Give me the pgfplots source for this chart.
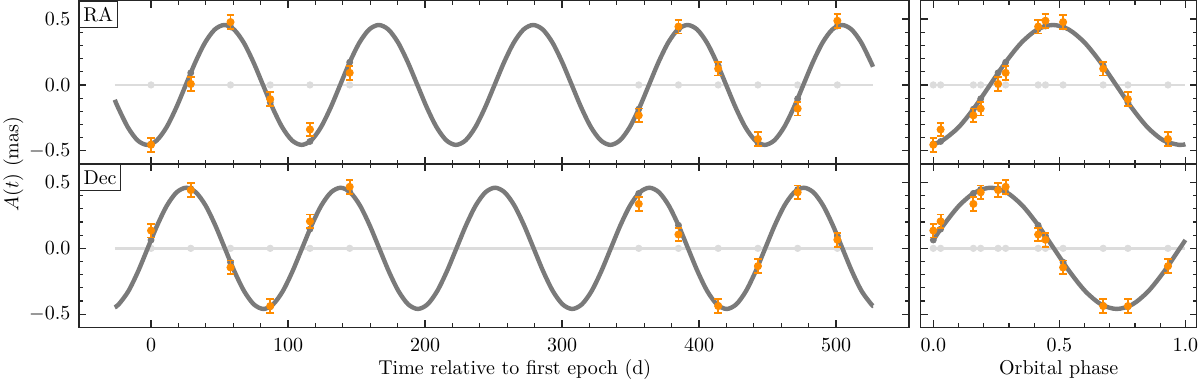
\documentclass[border=0pt]{standalone}
\usepackage{pgfplots}
\pgfplotsset{compat=1.18}
\usepackage{pgfplotstable}
\definecolor{dorange}{HTML}{FF8C00}
\definecolor{mgray}{HTML}{7A7A7A}
\definecolor{lgray}{HTML}{DCDCDC}

\pgfplotstableread{
t ph ra dec mra mdec err z
0 0.000 -0.454 0.135 -0.449 0.063 0.052 0
29 0.257 0.008 0.442 0.092 0.452 0.052 0
58 0.515 0.477 -0.145 0.441 -0.105 0.052 0
87 0.772 -0.108 -0.438 -0.132 -0.443 0.052 0
116 0.029 -0.338 0.205 -0.429 0.146 0.052 0
145 0.287 0.092 0.467 0.172 0.429 0.052 0
356 0.159 -0.231 0.337 -0.184 0.417 0.052 0
385 0.416 0.443 0.105 0.424 0.175 0.052 0
414 0.674 0.123 -0.438 0.145 -0.433 0.052 0
443 0.931 -0.410 -0.135 -0.438 -0.135 0.052 0
472 0.188 -0.180 0.425 -0.105 0.446 0.052 0
501 0.445 0.487 0.065 0.447 0.094 0.052 0
}\obs

\tikzset{lbl/.style={draw=black!85, line width=0.5pt, fill=white, anchor=north west, inner xsep=2pt, inner ysep=3.2pt, text height=6.83pt, text depth=0pt}}

\pgfplotsset{
 panel/.style={scale only axis, height=81.7pt, ymin=-0.6, ymax=0.64,
  ytick={-0.5,0,0.5}, minor y tick num=4, tick align=inside, tick pos=both,
  major tick length=3.5pt, minor tick length=2pt,
  every tick/.append style={black!85, line width=0.6pt},
  axis line style={black!85, line width=0.6pt},
  yticklabel style={/pgf/number format/fixed, /pgf/number format/fixed zerofill, /pgf/number format/precision=1, xshift=-0.8pt},
  xticklabel style={yshift=-2.1pt},
  clip mode=individual},
 leftpanel/.style={width=415pt, xmin=-52.6, xmax=553.3, xtick={0,100,...,500}, minor x tick num=4},
 rightpanel/.style={width=138pt, xmin=-0.05, xmax=1.045, xtick={0,0.5,1}, minor x tick num=4, yticklabels={},
  xticklabel style={/pgf/number format/fixed, /pgf/number format/fixed zerofill, /pgf/number format/precision=1}},
 zline/.style={lgray, line width=1.2pt},
 zdots/.style={only marks, mark=*, mark size=1.6pt, mark options={lgray, draw=lgray, fill=lgray}},
 model/.style={mgray, line width=2.2pt, smooth, no markers},
 mdots/.style={only marks, mark=*, mark size=1.5pt, mark options={mgray, draw=mgray, fill=mgray}},
 obs/.style={only marks, mark=*, mark size=1.8pt, mark options={dorange, draw=dorange, fill=dorange},
  error bars/.cd, y dir=both, y explicit,
  error bar style={dorange, line width=0.9pt},
  error mark options={rotate=90, dorange, line width=0.9pt, mark size=1.9pt}}
}

\begin{document}
\begin{tikzpicture}
\useasboundingbox (-39.5pt,-192.7pt) rectangle (560.5pt,0.3pt);

% RA vs time
\begin{axis}[panel, leftpanel, at={(0pt,0pt)}, anchor=north west, xticklabels={},
  ylabel={$A(t)$ (mas)}, ylabel style={at={(axis description cs:-0.0792,0)}, anchor=center}]
\addplot[zline] coordinates {(-26.5,0)(527,0)};
\addplot[zdots] table[x=t, y=z] {\obs};
\addplot[model] coordinates {
(-26.5,-0.1128)(-23.95,-0.1741)(-16.91,-0.3217)(-9.86,-0.4204)(-2.82,-0.455)(4.22,-0.4204)(11.27,-0.3217)(18.31,-0.1741)(25.35,0)(32.40,0.1741)(39.44,0.3217)(46.49,0.4204)
(53.53,0.455)(60.57,0.4204)(67.62,0.3217)(74.66,0.1741)(81.71,0)(88.75,-0.1741)(95.79,-0.3217)(102.84,-0.4204)(109.88,-0.455)(116.92,-0.4204)(123.97,-0.3217)(131.01,-0.1741)(138.06,0)(145.10,0.1741)(152.14,0.3217)(159.19,0.4204)
(166.23,0.455)(173.27,0.4204)(180.32,0.3217)(187.36,0.1741)(194.41,0)(201.45,-0.1741)(208.49,-0.3217)(215.54,-0.4204)(222.58,-0.455)(229.62,-0.4204)(236.67,-0.3217)(243.71,-0.1741)(250.76,0)(257.80,0.1741)(264.84,0.3217)(271.89,0.4204)
(278.93,0.455)(285.97,0.4204)(293.02,0.3217)(300.06,0.1741)(307.11,0)(314.15,-0.1741)(321.19,-0.3217)(328.24,-0.4204)(335.28,-0.455)(342.32,-0.4204)(349.37,-0.3217)(356.41,-0.1741)(363.46,0)(370.50,0.1741)(377.54,0.3217)(384.59,0.4204)
(391.63,0.455)(398.67,0.4204)(405.72,0.3217)(412.76,0.1741)(419.81,0)(426.85,-0.1741)(433.89,-0.3217)(440.94,-0.4204)(447.98,-0.455)(455.02,-0.4204)(462.07,-0.3217)(469.11,-0.1741)(476.16,0)(483.20,0.1741)(490.24,0.3217)(497.29,0.4204)
(504.33,0.455)(511.37,0.4204)(518.42,0.3217)(525.46,0.1741)(527,0.1377)};
\addplot[mdots] table[x=t, y=mra] {\obs};
\addplot[obs] table[x=t, y=ra, y error=err] {\obs};
\node[lbl] at (rel axis cs:0,1) {RA};
\end{axis}

% Dec vs time
\begin{axis}[panel, leftpanel, at={(0pt,-81.7pt)}, anchor=north west,
  xlabel={Time relative to first epoch (d)}, xlabel style={at={(axis description cs:0.525,0)}, anchor=base, yshift=-23.55pt}]
\addplot[zline] coordinates {(-26.5,0)(527,0)};
\addplot[zdots] table[x=t, y=z] {\obs};
\addplot[model] coordinates {
(-26.5,-0.4476)(-23.61,-0.425)(-16.56,-0.3253)(-9.52,-0.176)(-2.48,0)(4.57,0.176)(11.61,0.3253)(18.66,0.425)
(25.70,0.46)(32.74,0.425)(39.79,0.3253)(46.83,0.176)(53.88,0)(60.92,-0.176)(67.96,-0.3253)(75.01,-0.425)(82.05,-0.46)(89.09,-0.425)(96.14,-0.3253)(103.18,-0.176)(110.23,0)(117.27,0.176)(124.31,0.3253)(131.36,0.425)
(138.40,0.46)(145.44,0.425)(152.49,0.3253)(159.53,0.176)(166.58,0)(173.62,-0.176)(180.66,-0.3253)(187.71,-0.425)(194.75,-0.46)(201.79,-0.425)(208.84,-0.3253)(215.88,-0.176)(222.93,0)(229.97,0.176)(237.01,0.3253)(244.06,0.425)
(251.10,0.46)(258.14,0.425)(265.19,0.3253)(272.23,0.176)(279.28,0)(286.32,-0.176)(293.36,-0.3253)(300.41,-0.425)(307.45,-0.46)(314.49,-0.425)(321.54,-0.3253)(328.58,-0.176)(335.63,0)(342.67,0.176)(349.71,0.3253)(356.76,0.425)
(363.80,0.46)(370.84,0.425)(377.89,0.3253)(384.93,0.176)(391.98,0)(399.02,-0.176)(406.06,-0.3253)(413.11,-0.425)(420.15,-0.46)(427.19,-0.425)(434.24,-0.3253)(441.28,-0.176)(448.33,0)(455.37,0.176)(462.41,0.3253)(469.46,0.425)
(476.50,0.46)(483.54,0.425)(490.59,0.3253)(497.63,0.176)(504.68,0)(511.72,-0.176)(518.76,-0.3253)(525.81,-0.425)(527,-0.436)};
\addplot[mdots] table[x=t, y=mdec] {\obs};
\addplot[obs] table[x=t, y=dec, y error=err] {\obs};
\node[lbl] at (rel axis cs:0,1) {Dec};
\end{axis}

% RA vs phase
\begin{axis}[panel, rightpanel, at={(420.85pt,0pt)}, anchor=north west, xticklabels={}]
\addplot[zline] coordinates {(0,0)(1,0)};
\addplot[zdots] table[x=ph, y=z] {\obs};
\addplot[model] coordinates {
(0,-0.4494)(0.0375,-0.4204)(0.1,-0.3217)(0.1625,-0.1741)(0.225,0)(0.2875,0.1741)(0.35,0.3217)(0.4125,0.4204)(0.475,0.455)(0.5375,0.4204)(0.6,0.3217)(0.6625,0.1741)(0.725,0)(0.7875,-0.1741)(0.85,-0.3217)(0.9125,-0.4204)(0.975,-0.455)(1,-0.4494)};
\addplot[mdots] table[x=ph, y=mra] {\obs};
\addplot[obs] table[x=ph, y=ra, y error=err] {\obs};
\end{axis}

% Dec vs phase
\begin{axis}[panel, rightpanel, at={(420.85pt,-81.7pt)}, anchor=north west,
  xlabel={Orbital phase}, xlabel style={at={(axis description cs:0.5,0)}, anchor=base, yshift=-23.55pt}]
\addplot[zline] coordinates {(0,0)(1,0)};
\addplot[zdots] table[x=ph, y=z] {\obs};
\addplot[model] coordinates {
(0,0.063)(0.0405,0.176)(0.103,0.3253)(0.1655,0.425)(0.228,0.46)(0.2905,0.425)(0.353,0.3253)(0.4155,0.176)(0.478,0)(0.5405,-0.176)(0.603,-0.3253)(0.6655,-0.425)(0.728,-0.46)(0.7905,-0.425)(0.853,-0.3253)(0.9155,-0.176)(0.978,0)(1,0.063)};
\addplot[mdots] table[x=ph, y=mdec] {\obs};
\addplot[obs] table[x=ph, y=dec, y error=err] {\obs};
\end{axis}
\end{tikzpicture}
\end{document}
